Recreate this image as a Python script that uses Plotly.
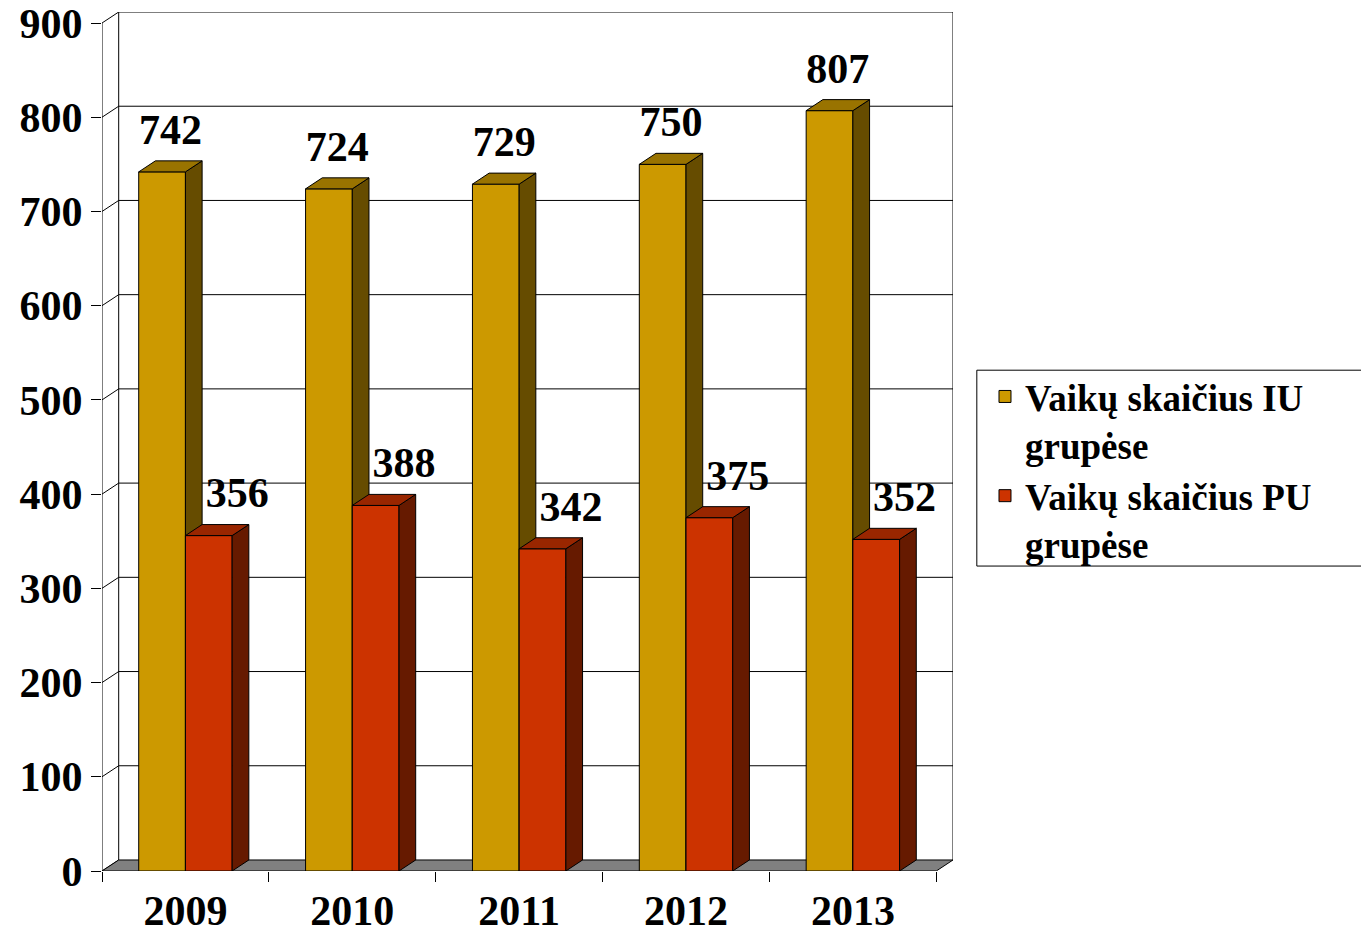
import plotly.graph_objects as go

# ---------------- data ----------------
years = ["2009", "2010", "2011", "2012", "2013"]
iu_values = [742, 724, 729, 750, 807]
pu_values = [356, 388, 342, 375, 352]
series_names = ["Vaikų skaičius IU<br>grupėse", "Vaikų skaičius PU<br>grupėse"]
y_ticks = [0, 100, 200, 300, 400, 500, 600, 700, 800, 900]

# ---------------- style ----------------
FONT = "Times New Roman, Liberation Serif, serif"
D_X = 0.1      # pseudo-3D depth, category units
D_Y = 11.7     # pseudo-3D depth, value units
BAR_W = 0.28
Y_MAX = y_ticks[-1]
x_pos = list(range(len(years)))
X_MIN, X_MAX = -0.5, len(years) - 0.5

front_cols = ["#CC9900", "#CC3300"]
top_cols = ["#997300", "#992600"]
side_cols = ["#664C00", "#661A00"]

fig = go.Figure()

def line(xs, ys, z=0, color="black", width=1):
    fig.add_trace(go.Scatter(x=xs, y=ys, mode="lines", line=dict(color=color, width=width),
                             hoverinfo="skip", showlegend=False, cliponaxis=False, zorder=z))

def poly(xs, ys, fill, z):
    fig.add_trace(go.Scatter(x=xs, y=ys, mode="lines", fill="toself", fillcolor=fill,
                             line=dict(color="black", width=1), hoverinfo="skip",
                             showlegend=False, cliponaxis=False, zorder=z))

# back wall gridlines and frame
gx, gy = [], []
for v in y_ticks[1:]:
    gx += [X_MIN + D_X, X_MAX + D_X, None]
    gy += [v + D_Y, v + D_Y, None]
line(gx, gy)
# left wall connectors
cx, cy = [], []
for v in y_ticks:
    cx += [X_MIN, X_MIN + D_X, None]
    cy += [v, v + D_Y, None]
line(cx, cy)
line([X_MIN + D_X, X_MIN + D_X], [D_Y, Y_MAX + D_Y])
line([X_MAX + D_X, X_MAX + D_X], [D_Y, Y_MAX + D_Y])
line([X_MIN, X_MIN], [0, Y_MAX])
# floor
poly([X_MIN, X_MAX, X_MAX + D_X, X_MIN + D_X, X_MIN], [0, 0, D_Y, D_Y, 0], "#808080", 0)

# bars
all_vals = [iu_values, pu_values]
offsets = [-BAR_W, 0.0]
for s, vals in enumerate(all_vals):
    z = 1 + 2 * s
    fig.add_trace(go.Bar(x=x_pos, y=vals, width=BAR_W, offset=offsets[s], name=series_names[s],
                         marker=dict(color=front_cols[s], line=dict(color="black", width=1)),
                         zorder=z))
    tx, ty, sx, sy = [], [], [], []
    for i, v in zip(x_pos, vals):
        x0 = i + offsets[s]
        x1 = x0 + BAR_W
        tx += [x0, x1, x1 + D_X, x0 + D_X, x0, None]
        ty += [v, v, v + D_Y, v + D_Y, v, None]
        sx += [x1, x1 + D_X, x1 + D_X, x1, x1, None]
        sy += [0, D_Y, v + D_Y, v, 0, None]
    poly(sx, sy, side_cols[s], z + 1)
    poly(tx, ty, top_cols[s], z + 1)

# data labels
label_dx = [-BAR_W / 2 + 0.05, BAR_W / 2 + 0.17]
for s, vals in enumerate(all_vals):
    fig.add_trace(go.Scatter(x=[i + label_dx[s] for i in x_pos], y=[v + 41 for v in vals],
                             mode="text", text=[str(v) for v in vals],
                             textfont=dict(family=FONT, size=42, color="black", weight="bold"),
                             textposition="middle center", hoverinfo="skip",
                             showlegend=False, cliponaxis=False, zorder=10))

# page body adds an 8px offset, so the figure is 8px smaller than the window
fig.update_layout(
    width=1361, height=925,
    margin=dict(l=94, r=416, t=4, b=62, autoexpand=False),
    paper_bgcolor="white", plot_bgcolor="white",
    barmode="overlay",
    font=dict(family=FONT, color="black"),
    legend=dict(x=1.0376, y=0.588, xanchor="left", yanchor="top",
                borderwidth=0, bgcolor="rgba(0,0,0,0)",
                font=dict(family=FONT, size=37, color="black", weight="bold"),
                traceorder="normal", valign="top", tracegroupgap=0),
    shapes=[dict(type="rect", xref="paper", yref="paper", x0=1.028, x1=1.7,
                 y0=0.355, y1=0.583, line=dict(color="black", width=1),
                 fillcolor="white", layer="below")],
)
fig.update_xaxes(range=[X_MIN, X_MAX + D_X], tickmode="array", tickvals=x_pos, ticktext=years,
                 ticks="", showgrid=False, zeroline=False, showline=False,
                 tickfont=dict(family=FONT, size=42, color="black", weight="bold"),
                 ticklabelstandoff=11,
                 minor=dict(tickmode="array", tickvals=[X_MIN + k for k in range(len(years) + 1)],
                            ticks="outside", ticklen=10, tickcolor="black", tickwidth=1,
                            showgrid=False))
fig.update_yaxes(range=[0, Y_MAX + D_Y], tickmode="array", tickvals=y_ticks,
                 ticks="outside", ticklen=10, tickcolor="black", tickwidth=1,
                 showgrid=False, zeroline=False, showline=False, ticklabeloverflow="allow",
                 tickfont=dict(family=FONT, size=42, color="black", weight="bold"))

fig.write_html("out.html")
